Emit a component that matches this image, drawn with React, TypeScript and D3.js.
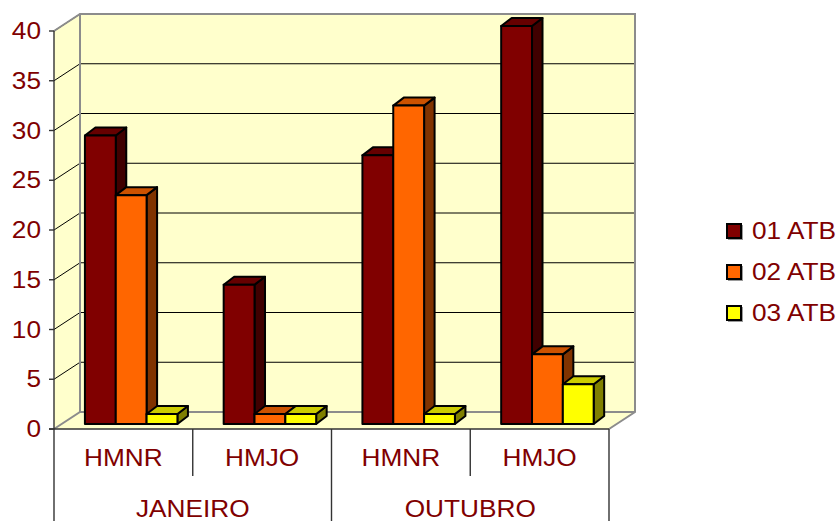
import React from "react";
import * as d3 from "d3";

// Chart data
const categories = ["HMNR", "HMJO", "HMNR", "HMJO"];
const months = ["JANEIRO", "OUTUBRO"];
const seriesNames = ["01 ATB", "02 ATB", "03 ATB"];
const atb01 = [29, 14, 27, 40];
const atb02 = [23, 1, 32, 7];
const atb03 = [1, 1, 1, 4];
const yTicks = [0, 5, 10, 15, 20, 25, 30, 35, 40];

const seriesValues = [atb01, atb02, atb03];
const seriesColors = ["#800000", "#FF6600", "#FFFF00"];

const W = 839;
const H = 521;
const FONT = "'Liberation Sans', Arial, sans-serif";
const TEXT_COLOR = "#800000";
const STRETCH = 1.14;
const FS = 23;

// 3D geometry
const WALL_DX = 26;
const WALL_DY = -17;
const BAR_OFF_X = 7.8;
const BAR_OFF_Y = -5;
const BAR_DX = 10.5;
const BAR_DY = -8;

const plotLeft = 54;
const plotRight = 609;
const y = d3.scaleLinear().domain([0, 40]).range([429, 31]);
const x = d3
  .scaleBand<number>()
  .domain(categories.map((_, i) => i))
  .range([plotLeft, plotRight])
  .paddingInner(0)
  .paddingOuter(0);
const xs = d3
  .scaleBand<number>()
  .domain(seriesNames.map((_, i) => i))
  .range([0, x.bandwidth()])
  .paddingInner(0)
  .paddingOuter(0.75);

function shade(c: string, k: number) {
  const col = d3.rgb(c);
  return d3.rgb(col.r * k, col.g * k, col.b * k).formatHex();
}

const pts = (p: number[][]) => p.map((q) => q.join(",")).join(" ");

export default function App() {
  const y0 = y(0);
  const yTop = y(40);
  const wallTop = yTop + WALL_DY;
  const wallBottom = y0 + WALL_DY;
  const wallLeft = plotLeft + WALL_DX;
  const wallRight = plotRight + WALL_DX;
  const gray = "#8c8c8c";

  const bars: React.ReactNode[] = [];
  categories.forEach((_, ci) => {
    seriesValues.forEach((vals, si) => {
      const v = vals[ci];
      const x0 = (x(ci) as number) + (xs(si) as number) + BAR_OFF_X;
      const x1 = x0 + xs.bandwidth();
      const yt = y(v) + BAR_OFF_Y;
      const yb = y0 + BAR_OFF_Y;
      const c = seriesColors[si];
      bars.push(
        <g key={`b${ci}-${si}`} stroke="#000" strokeWidth={2} strokeLinejoin="round">
          <polygon
            points={pts([[x1, yt], [x1 + BAR_DX, yt + BAR_DY], [x1 + BAR_DX, yb + BAR_DY], [x1, yb]])}
            fill={shade(c, 0.5)}
          />
          <polygon
            points={pts([[x0, yt], [x0 + BAR_DX, yt + BAR_DY], [x1 + BAR_DX, yt + BAR_DY], [x1, yt]])}
            fill={shade(c, 0.8)}
          />
          <rect x={x0} y={yt} width={x1 - x0} height={yb - yt} fill={c} />
        </g>
      );
    });
  });

  return (
    <svg
      width={W}
      height={H}
      style={{ position: "absolute", left: 0, top: 0, background: "#fff" }}
      fontFamily={FONT}
    >
      {/* walls and floor */}
      <polygon
        points={pts([[plotLeft, yTop], [wallLeft, wallTop], [wallLeft, wallBottom], [plotLeft, y0]])}
        fill="#FFFFCC"
      />
      <rect x={wallLeft} y={wallTop} width={wallRight - wallLeft} height={wallBottom - wallTop} fill="#FFFFCC" />
      <polygon
        points={pts([[plotLeft, y0], [wallLeft, wallBottom], [wallRight, wallBottom], [plotRight, y0]])}
        fill="#FFFFCC"
      />

      {/* gridlines */}
      {yTicks.slice(1).map((t) => (
        <g key={`g${t}`} stroke="#000" strokeWidth={1}>
          <line x1={plotLeft} y1={y(t)} x2={wallLeft} y2={y(t) + WALL_DY} />
          {t < 40 && <line x1={wallLeft} y1={y(t) + WALL_DY} x2={wallRight} y2={y(t) + WALL_DY} />}
        </g>
      ))}

      {/* wall edges */}
      <g stroke={gray} strokeWidth={2} fill="none">
        <polyline points={pts([[plotLeft, yTop], [wallLeft, wallTop], [wallRight, wallTop], [wallRight, wallBottom], [plotRight, y0]])} />
        <line x1={wallLeft} y1={wallTop} x2={wallLeft} y2={wallBottom} />
        <polyline points={pts([[plotLeft, y0], [wallLeft, wallBottom], [wallRight, wallBottom]])} />
      </g>

      {bars}

      {/* axes */}
      <g stroke="#333" strokeWidth={1.4}>
        <line x1={plotLeft} y1={yTop} x2={plotLeft} y2={H} />
        <line x1={plotLeft - 5} y1={y0} x2={plotRight} y2={y0} />
        {yTicks.map((t) => (
          <line key={`t${t}`} x1={plotLeft - 5} y1={y(t)} x2={plotLeft} y2={y(t)} />
        ))}
        {categories.map((_, i) => {
          const xr = (x(i) as number) + x.bandwidth();
          const full = i % 2 === 1;
          return <line key={`d${i}`} x1={xr} y1={y0} x2={xr} y2={full ? H : 476} />;
        })}
      </g>

      {/* y labels */}
      {yTicks.map((t) => (
        <text
          key={`yl${t}`}
          transform={`translate(41,${y(t) + 8}) scale(${STRETCH},1)`}
          textAnchor="end"
          fontSize={FS}
          fill={TEXT_COLOR}
        >
          {t}
        </text>
      ))}

      {/* category labels */}
      {categories.map((c, i) => (
        <text
          key={`cl${i}`}
          transform={`translate(${(x(i) as number) + x.bandwidth() / 2},466) scale(${STRETCH},1)`}
          textAnchor="middle"
          fontSize={FS}
          fill={TEXT_COLOR}
        >
          {c}
        </text>
      ))}
      {months.map((m, i) => {
        const cx = (x(i * 2) as number) + x.bandwidth();
        return (
          <text
            key={`m${i}`}
            transform={`translate(${cx},517) scale(${STRETCH},1)`}
            textAnchor="middle"
            fontSize={FS}
            fill={TEXT_COLOR}
          >
            {m}
          </text>
        );
      })}

      {/* legend */}
      {seriesNames.map((s, i) => {
        const cy = 231 + i * 41;
        return (
          <g key={`lg${i}`}>
            <rect x={728} y={cy - 6} width={15} height={15} fill="#9a9a9a" />
            <rect x={727} y={cy - 7} width={14} height={14} fill={seriesColors[i]} stroke="#000" strokeWidth={2} />
            <text
              transform={`translate(752,${cy + 8}) scale(${STRETCH},1)`}
              fontSize={FS}
              fill={TEXT_COLOR}
            >
              {s}
            </text>
          </g>
        );
      })}
    </svg>
  );
}
